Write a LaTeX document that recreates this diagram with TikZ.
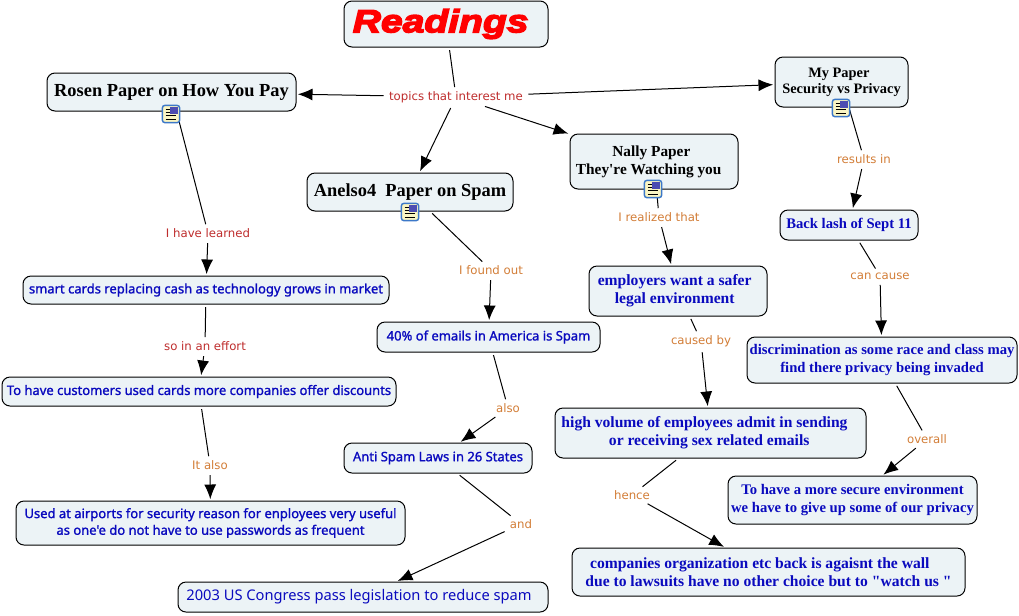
\documentclass[tikz,border=0pt]{standalone}
\usepackage{fontspec}
\usepackage{xcolor}
\usetikzlibrary{arrows.meta,positioning}
\setmainfont[Ligatures=TeXOff]{Liberation Serif}
\newfontfamily\headfont[UprightFont=* Bold Italic,FakeBold=4.5,FakeStretch=1.22]{Liberation Sans}
\newfontfamily\phrasefont{DejaVu Sans}
\newfontfamily\claimfont[FakeBold=1.3]{Noto Sans}
\newfontfamily\plainfont{Noto Sans}
\definecolor{boxfill}{RGB}{236, 243, 246}
\definecolor{claimblue}{RGB}{10, 10, 190}
\definecolor{linkred}{RGB}{190, 45, 45}
\definecolor{linkorange}{RGB}{210, 125, 55}
\definecolor{iconblue}{RGB}{60, 120, 200}
\definecolor{iconpage}{RGB}{250, 245, 195}
\tikzset{
    concept/.style={draw=black, fill=boxfill, rounded corners=6pt, line width=0.75pt, inner sep=0pt, align=center},
    paper/.style={concept, font=\bfseries\fontsize{10.8}{12}\selectfont},
    nallypaper/.style={concept, font=\bfseries\fontsize{11.5}{13.5}\selectfont},
    bigpaper/.style={concept, font=\bfseries\fontsize{13.8}{15}\selectfont},
    serifclaim/.style={concept, text=claimblue, font=\bfseries\fontsize{11}{13}\selectfont},
    nallyclaim/.style={concept, text=claimblue, font=\bfseries\fontsize{11.7}{13.5}\selectfont},
    sansclaim/.style={concept, text=claimblue, font=\claimfont\fontsize{9.75}{12.5}\selectfont},
    linkred/.style={text=linkred, font=\phrasefont\fontsize{8.8}{10}\selectfont, inner sep=2pt},
    linkorange/.style={text=linkorange, font=\phrasefont\fontsize{8.8}{10}\selectfont, inner sep=2pt},
    stem/.style={line width=0.75pt, draw=black, shorten <=2pt, shorten >=1pt},
    tip/.style={stem, -{Latex[length=11pt,width=9pt]}, shorten >=1pt},
    noteicon/.style={draw=iconblue, fill=iconpage, rounded corners=2pt, line width=1.1pt, minimum size=13pt, inner sep=0pt,
        path picture={
            \fill[sharp corners, gray!60!blue] ([xshift=6pt,yshift=-1.5pt]path picture bounding box.north west) rectangle ([xshift=-1.5pt,yshift=-6.5pt]path picture bounding box.north east);
            \draw[sharp corners, black, line width=0.6pt] ([xshift=2.5pt,yshift=-3pt]path picture bounding box.north west) -- ++(3pt,0);
            \draw[sharp corners, black, line width=0.6pt] ([xshift=2.5pt,yshift=-5.4pt]path picture bounding box.north west) -- ++(3pt,0);
            \draw[sharp corners, black, line width=0.6pt] ([xshift=2.5pt,yshift=-7.8pt]path picture bounding box.north west) -- ++(8pt,0);
            \draw[sharp corners, black, line width=0.6pt] ([xshift=2.5pt,yshift=-10.2pt]path picture bounding box.north west) -- ++(8pt,0);
        }},
}

\begin{document}
\begin{tikzpicture}[x=0.75pt, y=-0.75pt]
    \useasboundingbox (0,0) rectangle (1019,615);

    % Title
    \node[concept, minimum width=204*.75pt, minimum height=46*.75pt, text=red, font=\headfont\fontsize{24}{28}\selectfont] (readings) at (446,24) {Readings\hspace{8pt}\null};

    % Papers
    \node[bigpaper, minimum width=249*.75pt, minimum height=38*.75pt] (rosen) at (171.5,92) {Rosen Paper on How You Pay};
    \node[bigpaper, minimum width=206*.75pt, minimum height=38*.75pt] (anelso) at (410,192) {Anelso4\ \ Paper on Spam};
    \node[nallypaper, minimum width=168*.75pt, minimum height=55*.75pt] (nally) at (654,161.5) {Nally Paper\hspace{4pt}\null\\They're Watching you\hspace{8pt}\null};
    \node[paper, minimum width=133*.75pt, minimum height=50*.75pt] (mypaper) at (841.5,82) {My Paper\hspace{4pt}\null\\Security vs Privacy};

    % Rosen branch
    \node[sansclaim, minimum width=366*.75pt, minimum height=28*.75pt] (smart) at (206,290) {smart cards replacing cash as technology grows in market};
    \node[sansclaim, minimum width=394*.75pt, minimum height=29*.75pt] (customers) at (199,391.5) {To have customers used cards more companies offer discounts};
    \node[sansclaim, minimum width=389*.75pt, minimum height=44*.75pt] (airports) at (210.5,523) {Used at airports for security reason for enployees very useful\\as one'e do not have to use passwords as frequent};

    % Anelso branch
    \node[sansclaim, minimum width=223*.75pt, minimum height=30*.75pt] (emails) at (488.5,337) {40\% of emails in America is Spam};
    \node[sansclaim, minimum width=188*.75pt, minimum height=30*.75pt] (laws) at (438,458) {Anti Spam Laws in 26 States};
    \node[concept, text=claimblue, font=\plainfont\fontsize{11}{13}\selectfont, minimum width=370*.75pt, minimum height=30*.75pt] (congress) at (363,597) {2003 US Congress pass legislation to reduce spam\hspace{6pt}\null};

    % Nally branch
    \node[nallyclaim, minimum width=178*.75pt, minimum height=50*.75pt] (employers) at (678,291) {employers want a safer\hspace{5pt}\null\\legal environment\hspace{5pt}\null};
    \node[nallyclaim, minimum width=311*.75pt, minimum height=50*.75pt] (volume) at (710.5,433) {high volume of employees admit in sending\hspace{9pt}\null\\or receiving sex related emails\hspace{2pt}\null};
    \node[nallyclaim, minimum width=393*.75pt, minimum height=48*.75pt] (wall) at (768.5,572) {companies organization etc back is agaisnt the wall\hspace{13pt}\null\\due to lawsuits have no other choice but to "watch us "};

    % My paper branch
    \node[serifclaim, minimum width=138*.75pt, minimum height=30*.75pt] (backlash) at (849,225) {Back lash of Sept 11};
    \node[serifclaim, minimum width=270*.75pt, minimum height=46*.75pt] (race) at (882,360) {discrimination as some race and class may\\find there privacy being invaded};
    \node[serifclaim, minimum width=249*.75pt, minimum height=48*.75pt] (secure) at (852.5,500) {To have a more secure environment\\we have to give up some of our privacy};

    % Linking phrases
    \node[linkred] (interest) at (456,97) {topics that interest me};
    \node[linkred] (learned) at (208,233) {I have learned};
    \node[linkred] (effort) at (205,346) {so in an effort};
    \node[linkorange] (italso) at (210,465) {It also};
    \node[linkorange] (foundout) at (491,270) {I found out};
    \node[linkorange] (also) at (508,408) {also};
    \node[linkorange] (and) at (521,524) {and};
    \node[linkorange] (realized) at (659,217) {I realized that};
    \node[linkorange] (caused) at (701,341) {caused by};
    \node[linkorange] (hence) at (632,495) {hence};
    \node[linkorange] (results) at (864,159) {results in};
    \node[linkorange] (cancause) at (880,276) {can cause};
    \node[linkorange] (overall) at (927,439) {overall};

    % Connectors
    \draw[stem] (readings) -- (interest);
    \draw[tip] (interest) -- (rosen);
    \draw[tip] (interest) -- (anelso);
    \draw[tip] (interest) -- (nally);
    \draw[tip] (interest) -- (mypaper);
    \draw[stem] (rosen) -- (learned);
    \draw[tip] (learned) -- (smart);
    \draw[stem] (smart) -- (effort);
    \draw[tip] (effort) -- (customers);
    \draw[stem] (customers) -- (italso);
    \draw[tip] (italso) -- (airports);
    \draw[stem] (anelso) -- (foundout);
    \draw[tip] (foundout) -- (emails);
    \draw[stem] (emails) -- (also);
    \draw[tip] (also) -- (laws);
    \draw[stem] (laws) -- (and);
    \draw[tip] (and) -- (congress);
    \draw[stem] (nally) -- (realized);
    \draw[tip] (realized) -- (employers);
    \draw[stem] (employers) -- (caused);
    \draw[tip] (caused) -- (volume);
    \draw[stem] (volume) -- (hence);
    \draw[tip] (hence) -- (wall);
    \draw[stem] (mypaper) -- (results);
    \draw[tip] (results) -- (backlash);
    \draw[stem] (backlash) -- (cancause);
    \draw[tip] (cancause) -- (race);
    \draw[stem] (race) -- (overall);
    \draw[tip] (overall) -- (secure);

    % Note icons
    \node[noteicon] (rosenicon) at (171,114) {};
    \node[noteicon] (anelsoicon) at (410,212) {};
    \node[noteicon] (nallyicon) at (653,189) {};
    \node[noteicon] (mypapericon) at (841,108) {};
\end{tikzpicture}
\end{document}
